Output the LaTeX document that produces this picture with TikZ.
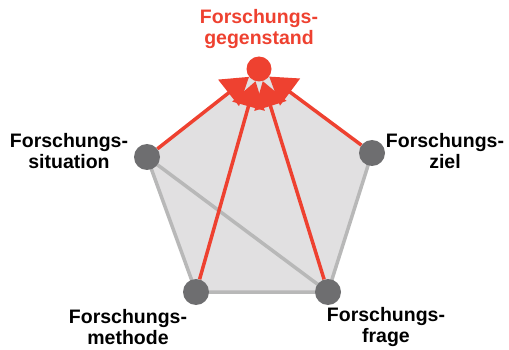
\documentclass[tikz,border=0pt]{standalone}
\usepackage{fontspec}
\setmainfont{Liberation Sans}
\usetikzlibrary{arrows.meta}
\definecolor{rd}{HTML}{EE4130}
\definecolor{dot}{HTML}{6E6E70}
\definecolor{edge}{HTML}{B8B8B8}
\definecolor{face}{HTML}{E1E0E1}
\tikzset{
  pt/.style={circle,fill=dot,minimum size=26pt,inner sep=0pt},
  toppt/.style={circle,fill=rd,minimum size=25pt,inner sep=0pt},
  lbl/.style={font=\bfseries\fontsize{19.5}{21.5}\selectfont,align=center,inner sep=0pt},
  grayline/.style={edge,line width=3.5pt},
  redarrow/.style={rd,line width=3.5pt,-{Triangle[length=26pt,width=33pt]}}
}
\begin{document}
\begin{tikzpicture}[x=1pt,y=-1pt]
\useasboundingbox (0,0) rectangle (509,350);
\coordinate (T) at (259,69);
\coordinate (L) at (147,157);
\coordinate (R) at (372,153);
\coordinate (BL) at (196,292);
\coordinate (BR) at (328,292);
\fill[face] (T) -- (R) -- (BR) -- (BL) -- (L) -- cycle;
\draw[grayline] (R) -- (BR) -- (BL) -- (L);
\draw[grayline] (L) -- (BR);
\node[toppt] (gegen) at (T) {};
\node[pt] (sit) at (L) {};
\node[pt] (ziel) at (R) {};
\node[pt] (meth) at (BL) {};
\node[pt] (frage) at (BR) {};
\draw[redarrow] (sit) -- (gegen);
\draw[redarrow] (ziel) -- (gegen);
\draw[redarrow] (meth) -- (gegen);
\draw[redarrow] (frage) -- (gegen);
\node[lbl,text=rd] (tgegen) at (259,29) {Forschungs-\\gegenstand};
\node[lbl] (tsit) at (69,151) {Forschungs-\\situation};
\node[lbl] (tziel) at (445,151) {Forschungs-\\ziel};
\node[lbl] (tmeth) at (128,327) {Forschungs-\\methode};
\node[lbl] (tfrage) at (386,327) {Forschungs-\\frage};
\end{tikzpicture}
\end{document}
